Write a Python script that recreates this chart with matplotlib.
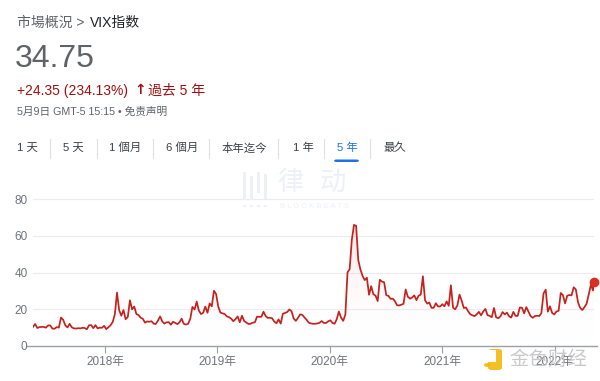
import numpy as np
import pandas as pd
import matplotlib
matplotlib.use("Agg")
import matplotlib.pyplot as plt
from matplotlib.patches import FancyBboxPatch, Rectangle, Circle
from matplotlib.colors import LinearSegmentedColormap

# ---------------- data (weekly VIX closes) ----------------
v2017 = [10.4, 12.0, 9.8,
         10.3, 10.4, 10.4, 10.0, 11.2,
         11.2, 9.5, 9.4, 10.3,
         10.0, 15.5, 14.3, 11.3,
         10.1, 12.1, 10.2, 9.6, 9.5,
         9.7, 9.6, 9.9, 9.8,
         9.1, 11.3, 11.4, 9.7,
         11.4, 9.6, 10.0, 9.9, 11.0]
v2018 = [9.2, 10.2, 11.3, 13.1,
         17.3, 29.1, 19.5, 16.5,
         19.6, 14.6, 15.8, 24.9, 20.0,
         21.5, 17.4, 16.9, 15.4,
         14.8, 12.7, 13.4, 13.2,
         13.5, 12.2, 12.0, 13.8, 16.1,
         13.4, 12.2, 12.9, 13.0,
         11.6, 13.2, 12.6, 11.9, 12.9,
         14.9, 12.1, 11.7, 12.1,
         14.8, 21.3, 19.9, 24.2,
         19.3, 17.4, 18.1, 21.5, 18.1,
         23.2, 21.6, 30.1, 28.3]
v2019 = [21.4, 18.2, 17.8, 17.4,
         16.1, 15.7, 14.9, 13.5,
         14.6, 16.1, 12.9, 16.5, 13.7,
         12.8, 12.0, 12.1, 12.7,
         12.9, 16.0, 15.9, 15.9, 18.7,
         16.3, 15.3, 15.4, 15.1,
         13.3, 12.4, 14.5, 12.2,
         17.6, 18.0, 18.5, 19.9, 19.0,
         15.0, 13.7, 15.3, 17.2,
         17.0, 15.6, 14.3, 12.7,
         12.3, 12.1, 12.1, 12.3, 12.6,
         13.6, 12.6, 12.5, 13.4]
v2020 = [14.0, 12.6, 12.1, 14.6, 18.8,
         15.5, 13.7, 17.1, 40.1,
         41.9, 57.8, 66.0, 65.5,
         46.8, 41.7, 38.2, 35.9,
         37.2, 27.9, 32.6, 28.2, 27.5,
         24.5, 36.1, 35.1, 34.7,
         27.7, 27.3, 25.7, 25.8, 24.5,
         22.2, 22.1, 22.5, 23.0,
         30.8, 26.9, 25.8, 26.4,
         27.6, 25.0, 27.4, 28.0, 38.0,
         24.9, 23.1, 23.7, 20.8,
         20.8, 23.3, 21.6, 21.5]
v2021 = [22.8, 21.6, 24.3, 21.9, 33.1,
         20.9, 20.0, 22.1, 28.0,
         24.7, 20.7, 21.0, 18.9,
         17.3, 16.7, 16.3, 17.3, 18.6,
         16.7, 18.8, 20.2, 16.8,
         16.4, 15.7, 20.7, 15.6,
         15.1, 16.2, 18.5, 17.2, 18.2,
         16.2, 15.5, 18.6, 16.4,
         16.4, 21.0, 20.8, 17.8,
         21.2, 18.8, 16.3, 15.4, 16.3,
         16.5, 16.3, 17.9, 28.6,
         30.7, 18.7, 21.6, 18.0, 17.2]
v2022 = [18.8, 19.2, 28.9, 27.7,
         23.2, 27.4, 27.8, 27.6,
         32.0, 30.8, 23.9, 20.8,
         19.6, 21.2, 23.0, 28.2, 33.4,
         30.2]
last_date = "2022-05-09"
last_value = 34.75

year_starts = ["2017-05-12", "2018-01-05", "2019-01-04", "2020-01-03", "2021-01-01", "2022-01-07"]
year_values = [v2017, v2018, v2019, v2020, v2021, v2022]

tick_years = [2018, 2019, 2020, 2021, 2022]
tick_labels = ["2018年", "2019年", "2020年", "2021年", "2022年"]
y_ticks = [0, 20, 40, 60, 80]
tabs = ["1 天", "5 天", "1 個月", "6 個月", "本年迄今", "1 年", "5 年", "最久"]

# ---------------- build series ----------------
dates = []
vals = []
for s, v in zip(year_starts, year_values):
    dates.extend(pd.date_range(s, periods=len(v), freq="W-FRI"))
    vals.extend(v)
dates.append(pd.Timestamp(last_date))
vals.append(last_value)
dates = pd.DatetimeIndex(dates)
vals = np.array(vals)

W, H = 600, 381
fig = plt.figure(figsize=(W / 100, H / 100), dpi=100)
fig.patch.set_facecolor("white")

LAT = ["Liberation Sans", "Noto Sans CJK SC", "DejaVu Sans"]
CJK = ["Noto Sans CJK SC", "Liberation Sans", "DejaVu Sans"]

def px(x, y):
    return x / W, 1 - y / H

# ---------------- header ----------------
fig.text(*px(17, 23), "市場概況 >", family=LAT, fontsize=10, color="#5f6368", va="center", ha="left")
fig.text(*px(90, 23), "VIX指数", family=LAT, fontsize=10, color="#202124", va="center", ha="left")
fig.text(*px(15, 59), "34.75", family=LAT, fontsize=23, color="#5f6368", va="center", ha="left")
fig.text(*px(17, 91), "+24.35 (234.13%)", family=LAT, fontsize=10, color="#a50e0e", va="center", ha="left")
fig.text(*px(134, 90), "↑", family=["DejaVu Sans"], fontsize=10, fontweight="bold", color="#a50e0e", va="center", ha="left")
fig.text(*px(148, 91), "過去 5 年", family=LAT, fontsize=10, color="#a50e0e", va="center", ha="left")
fig.text(*px(17, 112), "5月9日 GMT-5 15:15 • 免责声明", family=LAT, fontsize=7.7, color="#5f6368", va="center", ha="left")

# ---------------- tabs ----------------
tab_x = [17, 63, 109, 166, 222, 293, 337, 383]
sep_x = [50, 97, 153, 209, 278, 324, 370]
for t, x in zip(tabs, tab_x):
    col = "#1a73e8" if t == "5 年" else "#3c4043"
    fig.text(*px(x, 148), t, family=LAT, fontsize=8.2, color=col, va="center", ha="left")
for x in sep_x:
    fig.add_artist(plt.Line2D([x / W, x / W], [1 - 139 / H, 1 - 158 / H], color="#e0e0e0", lw=0.8))
fig.add_artist(FancyBboxPatch((334 / W, 1 - 162 / H), 25 / W, 2.5 / H,
                              boxstyle="round,pad=0,rounding_size=0.004",
                              facecolor="#1a73e8", edgecolor="none"))

# ---------------- watermark (BlockBeats) ----------------
wm = "#eef0f7"
for bx, by0, by1 in [(243, 172, 200), (250, 176, 200), (257, 172, 193), (264, 174, 199)]:
    fig.add_artist(Rectangle((bx / W, 1 - by1 / H), 3 / W, (by1 - by0) / H, facecolor=wm, edgecolor="none"))
for bx in [244.5, 251.5, 258.5, 265.5]:
    fig.add_artist(Circle((bx / W, 1 - 206 / H), 1.8 / W, facecolor=wm, edgecolor="none"))
fig.text(*px(277, 183), "律", family=CJK, fontsize=19, color=wm, va="center", ha="left")
fig.text(*px(320, 183), "动", family=CJK, fontsize=19, color=wm, va="center", ha="left")
fig.text(*px(280, 206), "B L O C K B E A T S", family=LAT, fontsize=5.5, color=wm, va="center", ha="left")

# ---------------- chart ----------------
ax = fig.add_axes([33 / W, 35 / H, (594 - 33) / W, (346 - 190) / H])
ax.set_facecolor("none")

for y in y_ticks[1:]:
    ax.axhline(y, color="#ececec", lw=0.8, zorder=0)

line_col = "#c5221f"
fill = ax.fill_between(dates, vals, 0, facecolor="none", edgecolor="none")
grad = LinearSegmentedColormap.from_list("g", [(1, 1, 1, 0), (0.85, 0.2, 0.2, 0.13)])
xnum = matplotlib.dates.date2num(dates)
img = ax.imshow(np.linspace(0, 1, 256).reshape(-1, 1), aspect="auto", cmap=grad, origin="lower",
                extent=[xnum[0], xnum[-1], 0, 66], zorder=1)
img.set_clip_path(fill.get_paths()[0], transform=ax.transData)
ax.set_xlim(dates[0], dates[-1])
ax.set_ylim(0, 85)

ax.plot(dates, vals, color=line_col, lw=1.25, zorder=3, solid_joinstyle="round")
ax.plot(dates[-1:], vals[-1:], "o", color="#d93025", ms=6, zorder=4, clip_on=False)

for s in ["top", "right", "left"]:
    ax.spines[s].set_visible(False)
ax.spines["bottom"].set_color("#9aa0a6")
ax.spines["bottom"].set_linewidth(1.0)
ax.spines["bottom"].set_bounds(xnum[0] - 20, xnum[-1] + 10)

ax.set_yticks(y_ticks)
ax.set_yticklabels([str(v) for v in y_ticks], family=LAT, fontsize=8.5, color="#70757a")
ax.tick_params(axis="y", length=0, pad=4)
ax.set_xticks([pd.Timestamp(f"{y}-01-01") for y in tick_years])
ax.set_xticklabels(tick_labels, family=LAT, fontsize=8.5, color="#70757a")
ax.tick_params(axis="x", length=5, width=0.8, color="#9aa0a6", pad=2)

# ---------------- watermark (金色财经) ----------------
fig.add_artist(FancyBboxPatch((488 / W, 1 - 370 / H), 14 / W, 21 / H,
                              boxstyle="round,pad=0,rounding_size=0.006",
                              facecolor="#f4b400", edgecolor="none", alpha=0.85))
fig.add_artist(Rectangle((488 / W, 1 - 362 / H), 8 / W, 12 / H, facecolor="white", edgecolor="none"))
fig.add_artist(Circle((487 / W, 1 - 365 / H), 3 / W, facecolor="#f4b400", edgecolor="none", alpha=0.9))
fig.text(*px(509, 359), "金色财经", family=CJK, fontsize=14, color="#c4c4c4", va="center", ha="left", alpha=0.9)

fig.savefig("out.png", dpi=100, facecolor="white")
